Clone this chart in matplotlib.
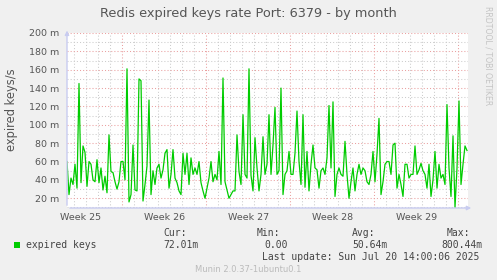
import numpy as np
import matplotlib
matplotlib.use('Agg')
import matplotlib.pyplot as plt
from matplotlib.ticker import MultipleLocator, FixedLocator, FuncFormatter

"""
Valores lidos do grafico (milli keys/s), um ponto a cada 4 horas
"""
expired = [
    60, 24, 42, 35, 57, 31, 145, 37, 77, 70, 33, 60, 57, 40, 38, 62, 37, 53, 29, 44, 26, 89, 49, 48, 38,
    30, 38, 60, 60, 40, 161, 16, 24, 78, 29, 28, 150, 148, 17, 35, 55, 127, 24, 50, 35, 53, 57, 42, 51, 69,
    73, 31, 46, 73, 42, 37, 28, 24, 69, 46, 69, 35, 64, 46, 53, 46, 60, 37, 28, 20, 31, 42, 60, 38, 46,
    40, 71, 35, 151, 38, 29, 20, 24, 28, 28, 89, 49, 35, 111, 46, 42, 161, 45, 28, 86, 53, 28, 46, 87, 46,
    57, 111, 46, 78, 119, 46, 50, 140, 24, 46, 50, 71, 46, 46, 69, 115, 60, 35, 111, 32, 71, 28, 57, 78, 53,
    51, 31, 50, 53, 46, 64, 121, 53, 125, 22, 46, 53, 46, 44, 82, 46, 20, 38, 53, 28, 46, 57, 46, 53, 50,
    38, 35, 46, 71, 38, 68, 107, 24, 38, 57, 60, 60, 46, 78, 80, 31, 46, 35, 22, 57, 57, 42, 46, 46, 77,
    46, 51, 58, 50, 46, 31, 57, 22, 40, 71, 31, 57, 42, 46, 35, 122, 53, 22, 88, 10, 53, 126, 35, 57, 77, 72,
]
hours = np.arange(len(expired)) * 4

week_start = [110.6, 278.6, 446.6, 614.6, 782.6]
week_labels = ['Week 25', 'Week 26', 'Week 27', 'Week 28', 'Week 29']
y_ticks = [20, 40, 60, 80, 100, 120, 140, 160, 180, 200]

legend_cols = ['Cur:', 'Min:', 'Avg:', 'Max:']
legend_vals = ['72.01m', '0.00', '50.64m', '800.44m']

W, H = 497, 280
BG = '#f0f0f0'
GREEN = '#00cc00'
AXIS = '#c8ccf0'
TXT = '#555555'

fig = plt.figure(figsize=(W / 100, H / 100), dpi=100, facecolor=BG)
ax = fig.add_axes([67 / W, 72 / H, 401 / W, 175 / H])
ax.set_facecolor('white')

ax.plot(hours, expired, color=GREEN, lw=0.9, zorder=3)

ax.set_xlim(0, 802)
ax.set_ylim(9.4, 200)

ax.yaxis.set_major_locator(FixedLocator(y_ticks))
ax.yaxis.set_minor_locator(MultipleLocator(10))
ax.yaxis.set_major_formatter(FuncFormatter(lambda v, p: '%d m' % v))
ax.xaxis.set_major_locator(FixedLocator(week_start))
ax.xaxis.set_minor_locator(FixedLocator(np.arange(week_start[0] - 96, 802, 24)))
ax.set_xticklabels([])

ax.grid(which='major', color='#eaa0a0', linestyle=(0, (1, 2)), lw=0.75)
ax.grid(which='minor', color='#cccccc', linestyle=(0, (1, 2)), lw=0.75)
ax.set_axisbelow(True)

ax.tick_params(which='both', length=0, colors=TXT, labelsize=6.8)
ax.tick_params(axis='y', pad=5.5)
for s in ax.spines.values():
    s.set_visible(False)

# eixos com setas
ax.annotate('', xy=(1.015, 0), xytext=(0, 0), xycoords='axes fraction',
            arrowprops=dict(arrowstyle='-|>', color=AXIS, lw=1, mutation_scale=6), annotation_clip=False)
ax.annotate('', xy=(0, 1.03), xytext=(0, 0), xycoords='axes fraction',
            arrowprops=dict(arrowstyle='-|>', color=AXIS, lw=1, mutation_scale=6), annotation_clip=False)

for pos, lab in zip(week_start, week_labels):
    ax.text(pos - 84, -0.053, lab, transform=ax.get_xaxis_transform(),
            ha='center', va='center', fontsize=6.8, color=TXT)

def ftext(x, y, s, **kw):
    fig.text(x / W, 1 - y / H, s, **kw)

ftext(248, 13, 'Redis expired keys rate Port: 6379 - by month', ha='center', va='center',
      fontsize=9.3, color=TXT)
ftext(12, 110, 'expired keys/s', ha='center', va='center', rotation=90, fontsize=8.3, color=TXT)
ftext(488, 56, 'RRDTOOL / TOBI OETIKER', ha='center', va='center', rotation=270,
      fontsize=5.6, color='#c4c4c4')

mono = dict(family='DejaVu Sans Mono', fontsize=7, color='#444444', va='center')
fig.patches.append(plt.Rectangle((14 / W, 1 - 248 / H), 6 / W, 6 / H, transform=fig.transFigure,
                                 facecolor=GREEN, edgecolor='none'))
ftext(26, 245, 'expired keys', **mono)
col_x = [163, 257, 352, 447]
val_x = [163, 264, 352, 441]
for cx, vx, c, v in zip(col_x, val_x, legend_cols, legend_vals):
    ftext(cx, 233, c, **mono)
    ftext(vx, 245, v, **mono)
ftext(262, 257, 'Last update: Sun Jul 20 14:00:06 2025', **mono)
ftext(248, 269, 'Munin 2.0.37-1ubuntu0.1', ha='center', va='center', fontsize=6, color='#bbbbbb')

fig.savefig('out.png', dpi=100, facecolor=BG)
